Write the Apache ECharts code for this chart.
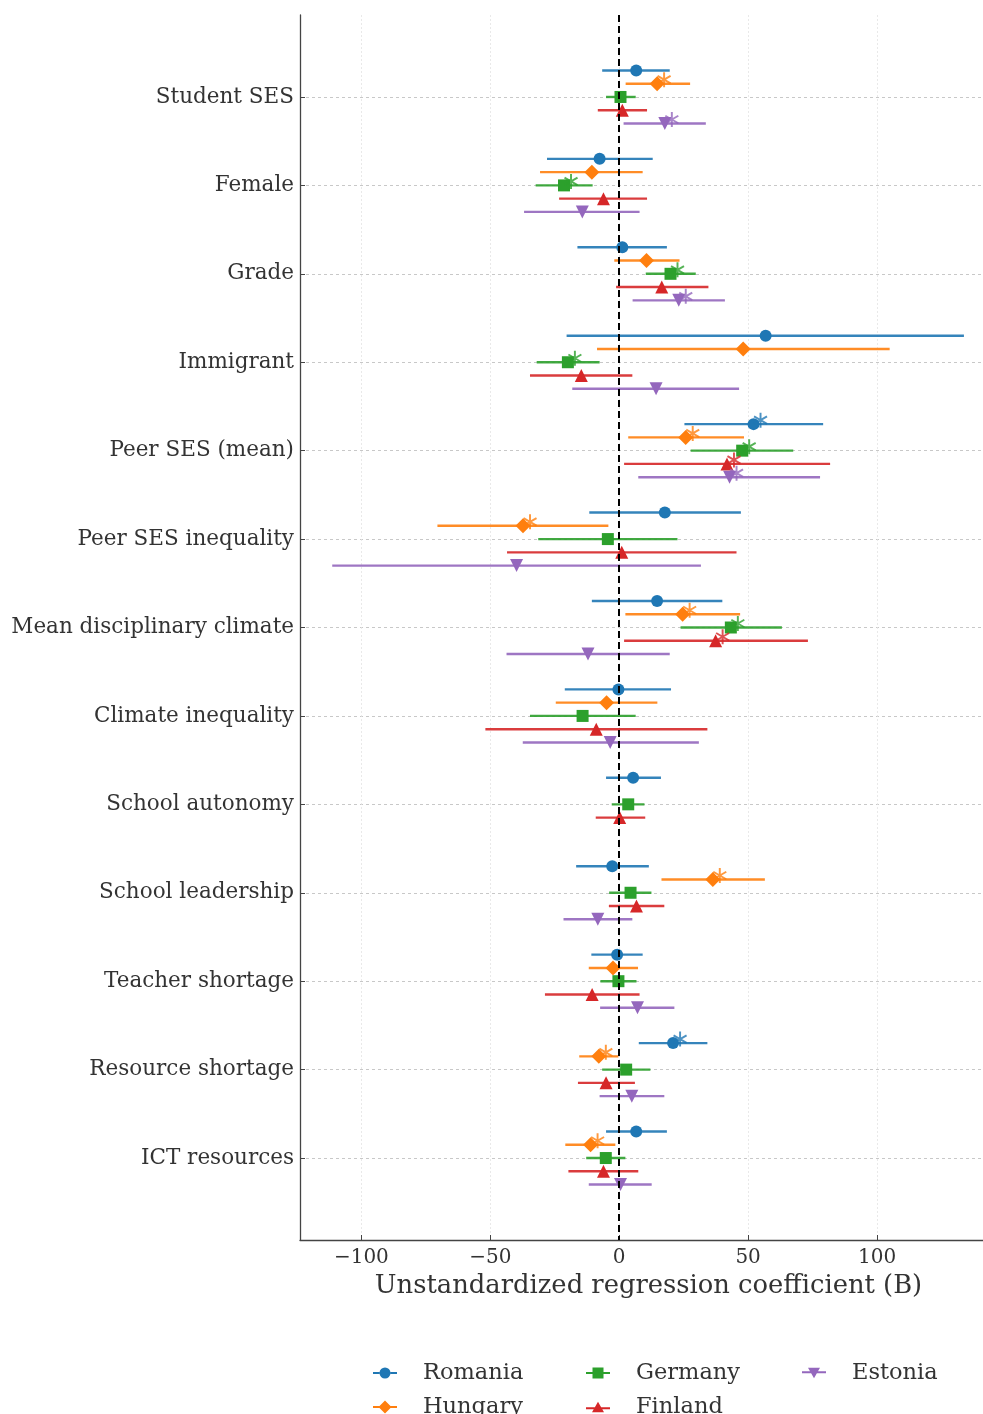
<!DOCTYPE html>
<html><head><meta charset="utf-8">
<script src="https://cdn.jsdelivr.net/npm/echarts@6/dist/echarts.min.js"></script>
<style>html,body{margin:0;padding:0;background:#fff}#c{width:983px;height:1414px}</style>
</head><body><div id="c"></div>
<script>
const categories = ['Student SES','Female','Grade','Immigrant','Peer SES (mean)','Peer SES inequality','Mean disciplinary climate','Climate inequality','School autonomy','School leadership','Teacher shortage','Resource shortage','ICT resources'];
const countries = ['Romania','Hungary','Germany','Finland','Estonia'];
const xTicks = [-100,-50,0,50,100];
const axisTitle = 'Unstandardized regression coefficient (B)';

const coefRomania = [6.6,-7.6,1.2,56.8,52.1,17.7,14.7,-0.3,5.4,-2.7,-0.8,20.9,6.6];
const lowRomania  = [-6.6,-28.0,-16.2,-20.4,25.3,-11.6,-10.6,-21.1,-5.1,-16.7,-10.8,7.6,-5.1];
const highRomania = [19.6,13.0,18.5,133.7,79.1,47.2,40.0,20.1,16.2,11.5,9.1,34.2,18.5];
const sigRomania  = [0,0,0,0,1,0,0,0,0,0,0,1,0];

const coefHungary = [14.7,-10.6,10.6,48.1,25.8,-37.3,24.6,-4.9,null,36.3,-2.4,-7.9,-11.1];
const lowHungary  = [2.5,-30.7,-1.9,-8.6,3.5,-70.5,2.4,-24.6,null,16.4,-11.8,-15.5,-20.9];
const highHungary = [27.5,9.1,23.4,104.9,48.4,-4.2,46.9,14.8,null,56.5,7.3,-0.3,-1.5];
const sigHungary  = [1,0,0,0,1,1,1,0,0,1,0,1,1];

const coefGermany = [0.5,-21.4,19.9,-19.9,47.7,-4.4,43.3,-14.2,3.5,4.4,-0.3,2.7,-5.2];
const lowGermany  = [-5.1,-32.4,10.3,-32.0,27.7,-31.4,23.8,-34.6,-2.9,-3.9,-7.3,-6.6,-12.8];
const highGermany = [6.4,-10.3,29.7,-7.6,67.5,22.6,63.1,6.4,9.8,12.5,6.7,12.1,2.4];
const sigGermany  = [0,1,1,1,1,0,1,0,0,0,0,0,0];

const coefFinland = [1.2,-6.1,16.5,-14.7,41.8,1.0,37.4,-8.9,0.2,6.7,-10.5,-5.1,-6.1];
const lowFinland  = [-8.3,-23.3,-1.2,-34.6,1.9,-43.5,1.9,-51.9,-9.1,-4.0,-28.8,-16.0,-19.7];
const highFinland = [10.8,10.8,34.6,5.1,81.8,45.5,73.2,34.2,10.1,17.5,7.9,6.1,7.4];
const sigFinland  = [0,0,0,0,1,0,1,0,0,0,0,0,0];

const coefEstonia = [17.7,-14.3,23.1,14.3,42.8,-39.8,-12.1,-3.5,null,-8.3,7.1,4.9,0.5];
const lowEstonia  = [1.7,-36.9,5.2,-18.2,7.4,-111.3,-43.7,-37.4,null,-21.6,-7.4,-7.6,-11.8];
const highEstonia = [33.6,7.9,41.0,46.5,77.9,31.7,19.6,30.9,null,5.1,21.4,17.5,12.6];
const sigEstonia  = [1,0,1,0,1,0,0,0,0,0,0,0,0];

const coefs = [coefRomania,coefHungary,coefGermany,coefFinland,coefEstonia];
const lows  = [lowRomania,lowHungary,lowGermany,lowFinland,lowEstonia];
const highs = [highRomania,highHungary,highGermany,highFinland,highEstonia];
const sigs  = [sigRomania,sigHungary,sigGermany,sigFinland,sigEstonia];

// styling
const FONT = 'DejaVu Serif';
const colors = ['#1f77b4','#ff7f0e','#2ca02c','#d62728','#9467bd'];
const symbols = ['circle','diamond','rect','triangle','triangle'];
const rotates = [0,0,0,0,180];
const sizes = [12,15,12,13,13];
const offsets = [-0.3,-0.15,0,0.15,0.3];

function asteriskPath(){
  const c = 10, L = 10, w = 1.3;
  let d = '';
  [90, 30, -30].forEach(a=>{
    const r = a*Math.PI/180;
    const dx = Math.cos(r), dy = -Math.sin(r);
    const px = -dy, py = dx;
    const p1 = [c - dx*L + px*w, c - dy*L + py*w];
    const p2 = [c + dx*L + px*w, c + dy*L + py*w];
    const p3 = [c + dx*L - px*w, c + dy*L - py*w];
    const p4 = [c - dx*L - px*w, c - dy*L - py*w];
    const cross = (p2[0]-p1[0])*(p3[1]-p2[1]) - (p2[1]-p1[1])*(p3[0]-p2[0]);
    const pts = cross > 0 ? [p1,p2,p3,p4] : [p1,p4,p3,p2];
    d += 'M' + pts.map(p=>p[0].toFixed(3)+','+p[1].toFixed(3)).join('L') + 'Z';
  });
  return 'path://' + d;
}
const ASTER = asteriskPath();

const legendIcons = [
  'path://M0,4.5H6.5V6.5H0Z M17.5,4.5H24V6.5H17.5Z M6.5,5.5A5.5,5.5 0 1,1 17.5,5.5A5.5,5.5 0 1,1 6.5,5.5Z',
  'path://M0,5.5H24V7.5H0Z M12,0L18.5,6.5L12,13L5.5,6.5Z',
  'path://M0,4.5H24V6.5H0Z M6.5,0H17.5V11H6.5Z',
  'path://M0,5.5H24V7.5H0Z M12,0L18,10.5L6,10.5Z',
  'path://M0,3.5H24V5.5H0Z M6,0L18,0L12,10.5Z'
];
const legendH = [11,13,11,10.5,10.5];
const legendPos = [[368,1368],[368,1402],[581,1368],[581,1402],[797,1368]];

const series = [];
countries.forEach((name,i)=>{
  const errData = [], ptData = [], astData = [];
  categories.forEach((c,j)=>{
    if (coefs[i][j] == null) return;
    const y = j + offsets[i];
    errData.push([lows[i][j], highs[i][j], y]);
    ptData.push([coefs[i][j], y]);
    if (sigs[i][j]) astData.push([coefs[i][j], y]);
  });
  const col = colors[i];
  series.push({
    name: name + ' CI', type: 'custom', z: 10 + i*3, silent: true,
    encode: {x:[0,1], y:2}, data: errData,
    renderItem: (params, api) => {
      const a = api.coord([api.value(0), api.value(2)]);
      const b = api.coord([api.value(1), api.value(2)]);
      return {type:'line', shape:{x1:a[0],y1:a[1],x2:b[0],y2:b[1]}, style:{stroke: col, lineWidth: 2.4, opacity: 0.9}};
    }
  });
  series.push({
    name: name, type: 'scatter', z: 11 + i*3, silent: true,
    symbol: symbols[i], symbolRotate: rotates[i], symbolSize: sizes[i],
    itemStyle: {color: col, opacity: 1}, data: ptData
  });
  series.push({
    name: name + ' sig', type: 'scatter', z: 12 + i*3, silent: true,
    symbol: ASTER, symbolKeepAspect: true, symbolSize: 15, symbolOffset: [7,-4],
    itemStyle: {color: col}, data: astData
  });
});
series[1].markLine = {
  silent: true, symbol: ['none','none'], label: {show:false},
  lineStyle: {color:'#000', type:[7,4], width:2},
  data: [{xAxis: 0}], z: 30
};

const option = {
  animation: false,
  backgroundColor: '#fff',
  grid: {left: 300, right: 0, top: 15, height: 1225, containLabel: false},
  xAxis: {
    type: 'value', min: -123.8, max: 141.1,
    axisLine: {show: true, onZero: false, lineStyle: {color:'#444', width: 1.3}},
    axisTick: {show: true, inside: true, length: 5, customValues: xTicks, lineStyle:{color:'#444'}},
    axisLabel: {customValues: xTicks, fontFamily: FONT, fontSize: 20, color: '#333', margin: 8,
      formatter: v => String(v).replace('-', '\u2212')},
    splitLine: {show: true, lineStyle: {color: '#e4e4e4', width: 0.8, type: [2,2]}},
    name: axisTitle, nameLocation: 'middle', nameGap: 28,
    nameTextStyle: {fontFamily: FONT, fontSize: 25.8, color: '#333', padding: [0,0,0,14]}
  },
  yAxis: {
    type: 'value', inverse: true, min: -0.927, max: 12.927,
    axisLine: {show: true, onZero: false, lineStyle: {color:'#444', width: 1.3}},
    axisTick: {show: true, inside: true, length: 5, customValues: categories.map((c,j)=>j), lineStyle:{color:'#444'}},
    axisLabel: {customValues: categories.map((c,j)=>j), fontFamily: FONT, fontSize: 21.5, color: '#333', margin: 6,
      formatter: v => categories[Math.round(v)] || ''},
    splitLine: {show: true, lineStyle: {color: '#c8c8c8', width: 1, type: [3,3]}}
  },
  legend: countries.map((name,i)=>({
    data: [{name: name, icon: legendIcons[i]}],
    left: legendPos[i][0], top: legendPos[i][1] - 14,
    itemWidth: 24, itemHeight: legendH[i], itemGap: 0, selectedMode: false,
    textStyle: {fontFamily: FONT, fontSize: 22.5, color: '#333', lineHeight: 28, padding: [0,0,0,21]}
  })),
  series: series
};
const chart = echarts.init(document.getElementById('c'), null, {renderer: 'canvas'});
chart.setOption(option);
</script>
</body></html>
